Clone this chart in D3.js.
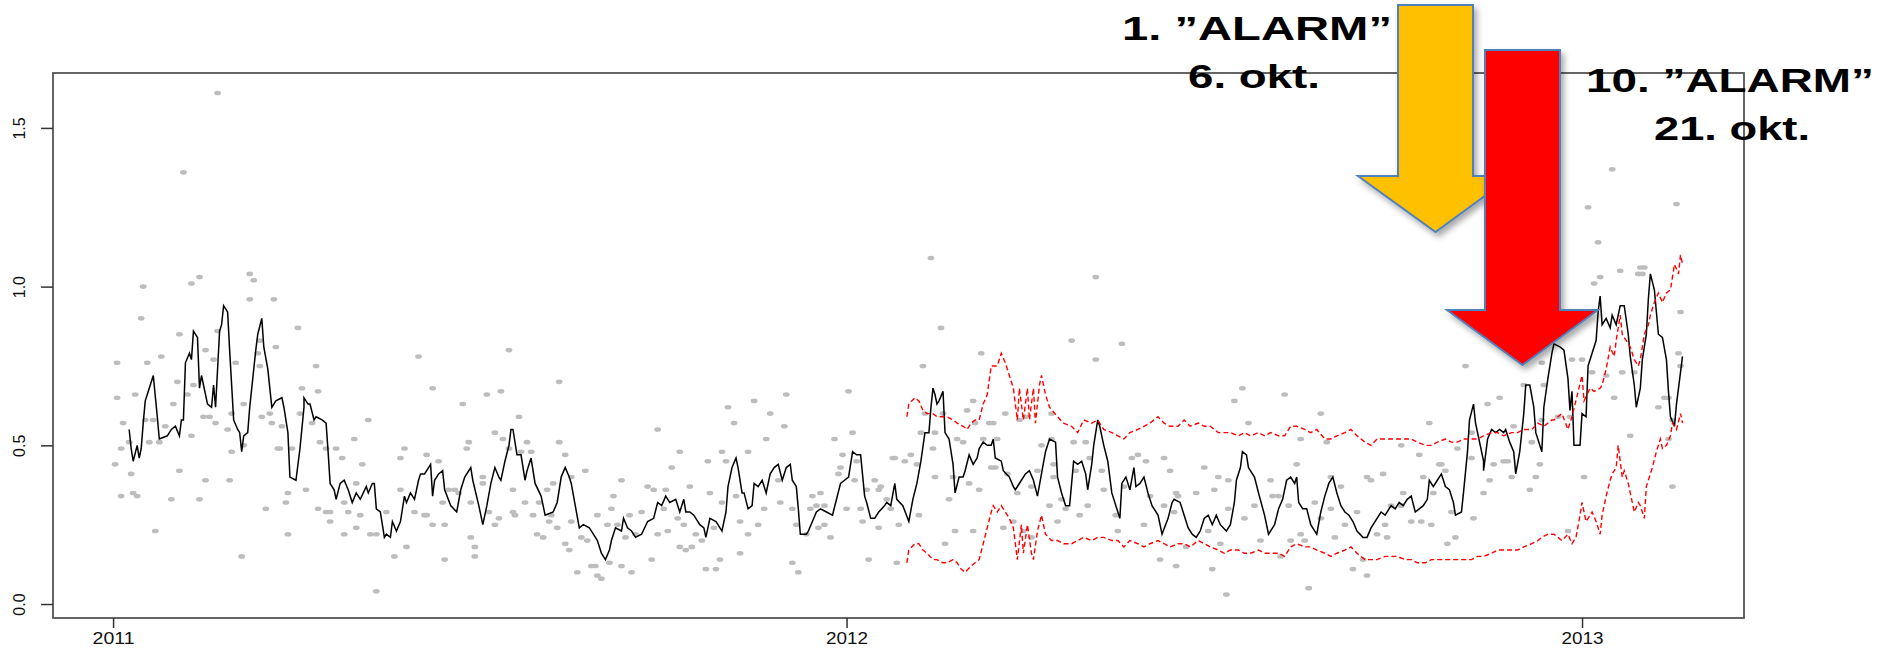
<!DOCTYPE html>
<html>
<head>
<meta charset="utf-8">
<script src="https://cdn.jsdelivr.net/npm/d3@7"></script>
<style>
  html, body { margin: 0; padding: 0; background: #fff; }
  svg { display: block; }
</style>
</head>
<body>
<div id="viz"></div>
<script>
// all series: [days since 1 Jan 2011, value]
const yearTicks = ["2011", "2012", "2013"];
const yTicks = [0, 0.5, 1.0, 1.5];

const points = [
  [2,.76],[2,.65],[5,.57],[4,.49],[1,.44],[8,.51],[9,.41],[4,.34],[10,.35],[12,.34],[15,1.00],[14,.90],[11,.66],[17,.76],[16,.58],[20,.58],[18,.51],[24,.78],[23,.51],[21,.23],[26,.56],[30,.63],[32,.70],[33,.85],[33,.42],[29,.33],[37,.66],[39,.53],[39,1.01],[43,1.03],[40,.69],[46,.80],[45,.59],[48,.59],[46,.39],[43,.33],[50,.77],[51,.57],[52,.86],[57,.55],[59,.48],[58,.39],[61,.76],[59,.60],[65,.63],[65,.50],[64,.15],[68,1.04],[70,1.02],[68,.96],[73,.83],[72,.79],[73,.75],[74,.59],[78,.60],[79,.57],[76,.30],[80,.96],[81,.81],[84,.56],[82,.49],[83,.49],[89,.49],[87,.35],[86,.32],[87,.22],[92,.87],[94,.68],[93,.60],[96,.36],[101,.75],[102,.67],[99,.57],[103,.51],[106,.49],[102,.30],[106,.29],[108,.29],[108,.26],[111,.49],[114,.46],[115,.32],[117,.29],[115,.22],[120,.52],[121,.38],[123,.28],[121,.24],[124,.44],[127,.58],[128,.22],[131,.22],[131,.04],[136,.29],[140,.15],[143,.36],[143,.46],[145,.49],[146,.18],[150,.29],[152,.78],[156,.47],[155,.28],[156,.28],[159,.25],[159,.68],[162,.45],[164,.32],[165,.25],[165,.14],[167,.36],[170,.36],[172,.35],[174,.63],[176,.49],[177,.51],[178,.32],[178,.21],[180,.18],[180,.15],[184,.38],[184,.40],[186,.66],[187,.29],[190,.54],[190,.25],[192,.27],[193,.67],[194,.52],[197,.80],[197,.49],[199,.36],[199,.29],[200,.28],[202,.59],[203,.48],[205,.32],[206,.51],[208,.48],[209,.28],[211,.22],[214,.21],[212,.32],[216,.36],[218,.28],[217,.26],[219,.38],[221,.24],[222,.51],[222,.70],
  [52,1.61],[35,1.36],
  [225,.47],[228,.40],[228,.26],[225,.19],[227,.17],[231,.10],[233,.21],[236,.20],[235,.42],[238,.12],[240,.12],[241,.09],[243,.08],[241,.28],[246,.25],[247,.13],[248,.30],[249,.34],[251,.25],[253,.12],[253,.39],[255,.21],[257,.28],[258,.10],[260,.22],[263,.29],[266,.37],[269,.36],[268,.14],[271,.55],[271,.22],[274,.30],[275,.36],[276,.23],[278,.43],[281,.27],[282,.18],[282,.48],[284,.25],[285,.17],[287,.37],[288,.18],[290,.22],[293,.20],[295,.11],[296,.45],[297,.35],[299,.24],[300,.11],[302,.14],[303,.32],[303,.48],[305,.45],[306,.62],[309,.57],[310,.34],[312,.16],[312,.26],[316,.22],[316,.48],[319,.64],[321,.25],[324,.30],[325,.52],[327,.60],[331,.39],[332,.32],[334,.56],[335,.66],[338,.13],[338,.30],[340,.25],[341,.10],[345,.22],[347,.30],[348,.34],[350,.31],[352,.35],[351,.24],[354,.25],[354,.31],[357,.21],[359,.52],[361,.41],[362,.43],[363,.47],[365,.30],[366,.67],[368,.54],[369,.39],[370,.45],[372,.30],[373,.26],[375,.36],[376,.14],[379,.39],[381,.36],[382,.37],[381,.24],[385,.33],[387,.30],[388,.46],[389,.46],[390,.13],[391,.25],[394,.45],[397,.47],[400,.44],[401,.28],[403,.75],[402,.54],[404,.60],[407,1.09],[408,.49],[409,.40],[409,.54],[412,.87],[413,.60],[414,.19],[416,.33],[418,.40],[419,.23],[420,.52],[423,.51],[425,.61],[426,.38],[428,.64],[428,.23],[429,.57],[431,.36],[432,.79],[433,.52],[436,.57],[438,.57],[437,.43],[439,.43],[440,.52],[443,.24],[444,.60],[445,.41],[448,.26],[450,.35],[451,.58],[454,.59],[453,.23],[457,.37],[457,.21],[460,.42],[462,.50],[466,.31],[467,.60],[468,.40],
  [489,1.03],[477,.83],[502,.82],[489,.77],[467,.52],[478,.51],[484,.51],[486,.46],[468,.44],[479,.42],[472,.33],[474,.30],[485,.31],[481,.28],[470,.26],[492,.42],[493,.36],[499,.28],[500,.23],[503,.37],[507,.46],[510,.47],[514,.45],[516,.34],[513,.25],[523,.46],[523,.31],[526,.42],[529,.35],[530,.34],[528,.29],[521,.14],[529,.12],[534,.18],[539,.35],[543,.43],[545,.23],[547,.11],[548,.36],[550,.40],[551,.19],[554,.03],[555,.39],[555,.30],[558,.64],[562,.68],[563,.27],[565,.57],[568,.31],[571,.20],[576,.39],[577,.34],[580,.34],[581,.15],[583,.66],[585,.31],[586,.20],[589,.44],[591,.52],[591,.22],[593,.20],[595,.05],[598,.32],[601,.60],[601,.27],[604,.51],[606,.30],[606,.40],[608,.21],[611,.37],[613,.25],[617,.11],[619,.29],[622,.14],[624,.09],[624,.40],[626,.39],[629,.22],[632,.41],[633,.25],[634,.21],[636,.31],[641,.31],[641,.50],[642,.35],[646,.26],[650,.47],[651,.26],[652,.40],[655,.57],[656,.25],[657,.35],[660,.44],[661,.44],[663,.42],[664,.19],[666,.29],[668,.21],[669,.49],[673,.75],[676,.54],[676,.46],[677,.27],[682,.35],[684,.63],[685,.39],[687,.44],[690,.65],[692,.45],[694,.45],[696,.40],[697,.56],[702,.69],[705,.36],[706,.51],[708,.40],[710,.44],[711,.76],[712,.69],[711,.58],
  [746,1.37],[734,1.25],[778,1.26],[739,1.14],[750,1.05],[760,1.06],[762,1.06],[759,1.04],[761,1.04],[737,1.01],[740,1.03],[780,.92],[779,.79],[726,.77],[731,.77],[736,.73],[751,.73],[743,.72],[757,.73],[780,.75],[772,.65],[774,.65],[769,.62],[776,.58],[755,.53],[774,.52],[732,.40],[776,.37],[724,.23],[719,.59],[725,.59],[747,.65]
];

const smooth = [
  [8,.55],[9,.49],[10,.45],[12,.50],[13,.46],[14,.49],[15,.57],[16,.64],[18,.68],[20,.72],[22,.59],[23,.52],[27,.53],[29,.55],[31,.56],[33,.53],[34,.58],[35,.58],[36,.76],[38,.79],[39,.77],[40,.86],[42,.84],[43,.68],[44,.72],[47,.63],[49,.62],[50,.69],[51,.62],[53,.86],[54,.88],[55,.94],[57,.92],[58,.80],[60,.58],[62,.55],[63,.54],[64,.48],[65,.53],[67,.54],[68,.62],[71,.80],[72,.85],[74,.90],[75,.81],[77,.74],[79,.62],[80,.63],[81,.64],[84,.65],[85,.62],[87,.54],[88,.40],[91,.39],[93,.49],[95,.62],[95,.65],[97,.63],[98,.63],[100,.58],[101,.59],[104,.58],[106,.57],[107,.48],[108,.38],[110,.36],[111,.33],[113,.38],[115,.39],[117,.36],[119,.32],[121,.35],[123,.33],[126,.37],[127,.35],[129,.38],[130,.38],[131,.30],[133,.29],[135,.21],[136,.22],[138,.21],[139,.26],[141,.23],[143,.26],[145,.34],[146,.32],[148,.35],[150,.33],[152,.39],[153,.41],[155,.41],[157,.43],[158,.44],[159,.34],[160,.39],[162,.41],[164,.42],[165,.36],[168,.31],[171,.29],[173,.36],[175,.40],[178,.43],[179,.39],[182,.31],[184,.25],[186,.31],[188,.38],[190,.43],[192,.40],[193,.39],[195,.45],[197,.50],[198,.55],[199,.55],[201,.47],[203,.47],[205,.39],[206,.42],[208,.46],[210,.38],[213,.34],[215,.28],[219,.29],[221,.32],[223,.40],[225,.43],[227,.40],[228,.38],[230,.31],[232,.24],[234,.25],[237,.24],[239,.22],[241,.20],[243,.16],[245,.14],[247,.17],[248,.20],[250,.24],[253,.23],[254,.27],[256,.24],[258,.23],[260,.21],[263,.22],[266,.26],[269,.27],[271,.32],[273,.31],[275,.34],[277,.32],[280,.33],[282,.29],[284,.33],[285,.29],[287,.29],[289,.28],[292,.25],[294,.24],[295,.21],[297,.27],[300,.26],[301,.25],[303,.23],[305,.29],[306,.37],[308,.43],[310,.46],[311,.43],[313,.35],[314,.35],[316,.30],[318,.31],[319,.38],[321,.37],[323,.39],[325,.35],[327,.41],[329,.43],[331,.44],[333,.39],[335,.43],[337,.44],[338,.39],[340,.37],[341,.30],[342,.22],[345,.22],[346,.23],[348,.26],[350,.29],[352,.30],[355,.29],[358,.28],[360,.33],[362,.38],[364,.39],[366,.40],[368,.48],[370,.47],[372,.47],[374,.34],[375,.32],[377,.27],[379,.27],[381,.29],[384,.31],[385,.32],[387,.31],[389,.38],[390,.33],[393,.31],[396,.26],[398,.33],[400,.38],[402,.45],[404,.54],[406,.54],[407,.62],[408,.68],[409,.66],[410,.63],[411,.64],[413,.67],[414,.54],[416,.52],[418,.44],[419,.35],[421,.40],[423,.40],[424,.42],[426,.47],[428,.44],[430,.46],[431,.49],[433,.51],[435,.50],[437,.50],[438,.52],[439,.46],[442,.45],[443,.42],[446,.40],[448,.37],[449,.36],[452,.39],[454,.41],[456,.42],[458,.39],[460,.34],[462,.41],[464,.48],[466,.52],[469,.51],[470,.40],[472,.35],[474,.31],[476,.31],[478,.45],[480,.44],[482,.45],[484,.41],[485,.36],[487,.44],[488,.50],[490,.58],[491,.56],[493,.50],[495,.45],[497,.35],[499,.31],[501,.27],[502,.38],[504,.40],[506,.36],[508,.43],[509,.37],[511,.38],[513,.40],[515,.35],[517,.31],[520,.28],[522,.22],[525,.27],[527,.32],[528,.33],[531,.32],[533,.28],[535,.24],[537,.22],[539,.21],[541,.23],[543,.27],[545,.28],[547,.25],[549,.28],[551,.25],[554,.23],[556,.25],[558,.32],[559,.39],[561,.43],[562,.48],[564,.47],[565,.43],[568,.40],[570,.35],[573,.28],[575,.22],[578,.25],[580,.30],[582,.33],[584,.39],[586,.40],[588,.38],[589,.40],[590,.32],[592,.30],[594,.30],[596,.25],[598,.23],[599,.22],[601,.29],[603,.34],[605,.38],[607,.40],[609,.35],[611,.31],[613,.29],[615,.28],[617,.26],[619,.23],[622,.21],[624,.21],[626,.24],[629,.27],[631,.29],[633,.28],[636,.31],[638,.30],[640,.32],[642,.31],[644,.33],[646,.34],[648,.29],[650,.30],[652,.31],[654,.33],[655,.39],[657,.37],[659,.39],[661,.41],[663,.37],[665,.36],[667,.32],[668,.28],[671,.29],[672,.35],[674,.48],[675,.58],[677,.63],[678,.57],[680,.51],[682,.45],[682,.42],[684,.52],[686,.55],[688,.54],[690,.55],[692,.54],[693,.55],[695,.51],[697,.48],[698,.41],[700,.48],[702,.60],[703,.69],[705,.69],[707,.62],[708,.54],[711,.48],[712,.62],[714,.71],[716,.79],[717,.82],[720,.81],[722,.80],[724,.71],[725,.61],[726,.67],[727,.50],[730,.50],[731,.60],[733,.59],[734,.75],[736,.79],[738,.83],[739,.92],[740,.97],[741,.88],[743,.90],[745,.87],[746,.91],[748,.88],[750,.94],[752,.94],[754,.85],[755,.78],[757,.69],[758,.62],[760,.68],[761,.77],[763,.85],[764,.96],[765,1.04],[767,.99],[769,.85],[771,.84],[773,.77],[774,.67],[775,.59],[777,.56],[778,.63],[780,.73],[781,.78]
];

const upperBand = [
  [395,.59],[396,.63],[399,.65],[401,.64],[403,.61],[405,.60],[408,.60],[410,.59],[413,.59],[415,.59],[418,.58],[420,.57],[423,.56],[425,.55],[427,.57],[429,.58],[431,.58],[433,.63],[435,.66],[437,.75],[440,.75],[442,.79],[444,.76],[446,.72],[448,.68],[450,.58],[451,.68],[453,.58],[455,.68],[456,.58],[458,.68],[459,.57],[461,.69],[462,.72],[464,.66],[466,.62],[470,.59],[473,.57],[477,.56],[480,.54],[483,.58],[487,.57],[490,.58],[493,.55],[497,.54],[500,.53],[503,.52],[506,.54],[510,.55],[513,.56],[516,.57],[520,.59],[523,.57],[526,.56],[530,.56],[533,.58],[536,.56],[540,.57],[543,.56],[546,.56],[550,.54],[553,.54],[556,.54],[560,.53],[563,.54],[566,.53],[570,.54],[573,.53],[576,.54],[580,.53],[583,.53],[586,.56],[589,.56],[593,.55],[596,.54],[599,.55],[603,.52],[606,.52],[609,.53],[613,.54],[616,.55],[619,.53],[623,.51],[626,.50],[629,.52],[633,.52],[636,.52],[639,.52],[643,.52],[646,.52],[649,.51],[653,.50],[656,.50],[659,.51],[663,.52],[666,.51],[669,.51],[672,.52],[676,.52],[679,.52],[682,.53],[686,.54],[689,.54],[692,.53],[696,.54],[699,.54],[702,.55],[706,.55],[709,.57],[712,.56],[716,.58],[717,.58],[721,.60],[724,.55],[726,.59],[731,.72],[732,.64],[735,.68],[737,.67],[740,.68],[741,.69],[743,.74],[745,.81],[747,.78],[748,.83],[750,.91],[751,.85],[753,.83],[755,.81],[757,.77],[759,.75],[760,.77],[762,.85],[764,.88],[765,.91],[767,.95],[769,.98],[771,.95],[773,.98],[775,.99],[776,1.03],[777,1.07],[779,1.04],[780,1.10],[781,1.07]
];

const lowerBand = [
  [395,.13],[396,.17],[399,.19],[401,.19],[403,.17],[405,.16],[408,.14],[410,.14],[413,.13],[415,.13],[418,.14],[420,.13],[422,.11],[424,.10],[427,.12],[429,.13],[431,.14],[433,.19],[435,.24],[437,.29],[438,.31],[440,.29],[442,.31],[444,.29],[446,.27],[448,.24],[450,.14],[452,.25],[453,.16],[455,.25],[457,.16],[458,.14],[460,.23],[462,.28],[464,.22],[467,.20],[470,.20],[473,.19],[477,.19],[480,.20],[483,.21],[487,.20],[490,.21],[493,.21],[497,.20],[500,.20],[503,.18],[506,.20],[510,.19],[513,.18],[516,.19],[520,.20],[523,.19],[526,.18],[530,.19],[533,.19],[536,.18],[540,.20],[543,.19],[546,.18],[550,.17],[553,.16],[556,.17],[560,.17],[563,.16],[566,.16],[570,.17],[573,.16],[576,.16],[580,.16],[583,.15],[586,.18],[589,.19],[593,.18],[596,.18],[599,.17],[603,.16],[606,.15],[609,.16],[613,.17],[616,.18],[619,.16],[623,.14],[626,.14],[629,.14],[633,.15],[636,.15],[639,.15],[643,.14],[646,.14],[649,.13],[653,.13],[656,.14],[659,.14],[663,.14],[666,.14],[669,.14],[672,.14],[676,.14],[679,.15],[682,.15],[686,.16],[689,.17],[692,.17],[696,.17],[699,.17],[702,.18],[706,.19],[709,.20],[711,.21],[714,.22],[717,.22],[721,.20],[724,.22],[726,.19],[728,.21],[730,.28],[731,.32],[733,.26],[735,.28],[736,.29],[738,.26],[740,.22],[741,.28],[743,.34],[745,.39],[746,.41],[748,.43],[749,.50],[751,.40],[752,.42],[754,.38],[755,.35],[757,.29],[759,.32],[760,.31],[762,.27],[763,.37],[765,.41],[766,.43],[768,.48],[770,.52],[771,.49],[773,.50],[775,.53],[776,.57],[778,.55],[780,.60],[781,.57]
];

const alarmTitles = ["1. ”ALARM”", "10. ”ALARM”"];
const alarmDates = ["6. okt.", "21. okt."];

const width = 1881;
const height = 651;

const svg = d3.select("#viz").append("svg")
    .attr("width", width)
    .attr("height", height)
    .style("font-family", "'Liberation Sans', Arial, sans-serif");

const base = Date.UTC(2011, 0, 1);
const toDate = d => new Date(base + d * 864e5);

const x = d3.scaleUtc()
    .domain([toDate(-29.9), toDate(811.6)])
    .range([53, 1744]);

const y = d3.scaleLinear()
    .domain([-0.044, 1.673])
    .range([618, 73]);

// gray daily values
svg.append("g").selectAll("ellipse")
    .data(points)
    .enter()
    .append("ellipse")
    .attr("cx", d => x(toDate(d[0])))
    .attr("cy", d => y(d[1]))
    .attr("rx", 3.4)
    .attr("ry", 2.3)
    .attr("fill", "#bdbdbd");

const line = d3.line()
    .x(d => x(toDate(d[0])))
    .y(d => y(d[1]));

svg.append("path")
    .attr("d", line(smooth))
    .attr("fill", "none")
    .attr("stroke", "#000")
    .attr("stroke-width", 1.5);

[upperBand, lowerBand].forEach(band => {
    svg.append("path")
        .attr("d", line(band))
        .attr("fill", "none")
        .attr("stroke", "#ff0000")
        .attr("stroke-width", 1.4)
        .attr("stroke-dasharray", "5,3");
});

// box
svg.append("rect")
    .attr("x", 53).attr("y", 73)
    .attr("width", 1691).attr("height", 545)
    .attr("fill", "none")
    .attr("stroke", "#555")
    .attr("stroke-width", 1.8);

// x axis
const xAxis = svg.append("g")
    .attr("transform", "translate(0,618)")
    .call(d3.axisBottom(x)
        .tickValues(yearTicks.map(t => new Date(Date.UTC(+t, 0, 1))))
        .tickFormat((d, i) => yearTicks[i])
        .tickSize(10)
        .tickPadding(5));
xAxis.select(".domain").remove();
xAxis.selectAll("line").attr("stroke", "#333").attr("stroke-width", 1.5);
xAxis.selectAll("text")
    .attr("fill", "#111")
    .attr("font-size", 16)
    .attr("font-family", "'Liberation Sans', Arial, sans-serif")
    .attr("textLength", 42)
    .attr("lengthAdjust", "spacingAndGlyphs");

// y axis
const yAxis = svg.append("g")
    .attr("transform", "translate(53,0)")
    .call(d3.axisLeft(y)
        .tickValues(yTicks)
        .tickFormat(d3.format(".1f"))
        .tickSize(12));
yAxis.select(".domain").remove();
yAxis.selectAll("line").attr("stroke", "#333").attr("stroke-width", 1.5);
yAxis.selectAll("text")
    .attr("x", null).attr("dy", null)
    .attr("fill", "#111")
    .attr("font-size", 16)
    .attr("font-family", "'Liberation Sans', Arial, sans-serif")
    .attr("text-anchor", "middle")
    .attr("transform", "translate(-28,0) rotate(-90)");

// overlay arrows
const defs = svg.append("defs");
defs.append("filter")
    .attr("id", "shadow")
    .attr("x", "-20%").attr("y", "-20%")
    .attr("width", "150%").attr("height", "150%")
    .append("feDropShadow")
    .attr("dx", 3).attr("dy", 4)
    .attr("stdDeviation", 3)
    .attr("flood-color", "#000")
    .attr("flood-opacity", 0.35);

const arrow = (x0, x1, top, headTop, headL, headR, tipY) => {
    const cx = (x0 + x1) / 2;
    return `M${x0},${top}L${x1},${top}L${x1},${headTop}L${headR},${headTop}` +
        `L${cx},${tipY}L${headL},${headTop}L${x0},${headTop}Z`;
};

svg.append("path")
    .attr("d", arrow(1398, 1473, 5, 176, 1358, 1512, 232))
    .attr("fill", "#ffc000")
    .attr("stroke", "#4f81bd")
    .attr("stroke-width", 2)
    .attr("filter", "url(#shadow)");

svg.append("path")
    .attr("d", arrow(1485, 1560, 50, 310, 1447, 1598, 365))
    .attr("fill", "#ff0000")
    .attr("stroke", "#4f81bd")
    .attr("stroke-width", 2)
    .attr("filter", "url(#shadow)");

// alarm labels
const labelPos = [
    {tx: 1122, tw: 270, ty: 40, dx: 1188, dw: 132, dy: 88},
    {tx: 1586, tw: 288, ty: 92, dx: 1654, dw: 156, dy: 140}
];

alarmTitles.forEach((t, i) => {
    const p = labelPos[i];
    [[t, p.tx, p.tw, p.ty], [alarmDates[i], p.dx, p.dw, p.dy]].forEach(([s, lx, lw, ly]) => {
        svg.append("text")
            .attr("x", lx)
            .attr("y", ly)
            .attr("font-size", 33)
            .attr("font-weight", "bold")
            .attr("fill", "#000")
            .attr("textLength", lw)
            .attr("lengthAdjust", "spacingAndGlyphs")
            .text(s);
    });
});
</script>
</body>
</html>
